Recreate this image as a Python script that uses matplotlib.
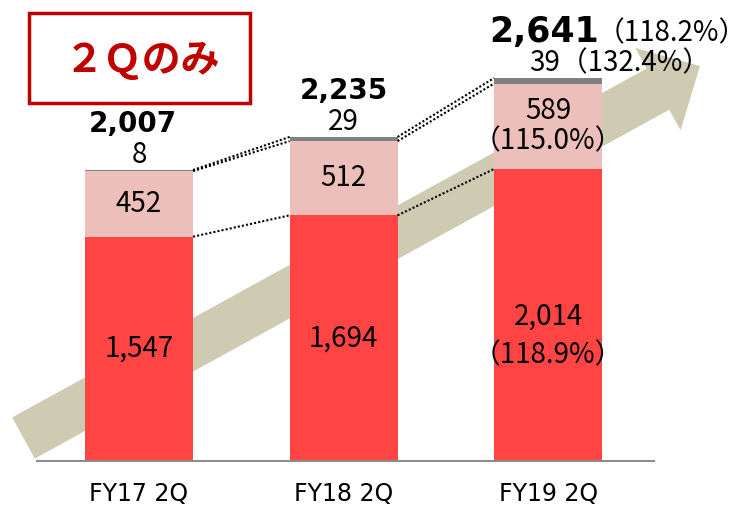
import numpy as np
import matplotlib
matplotlib.use("Agg")
import matplotlib.pyplot as plt
from matplotlib.patches import Polygon, Rectangle

categories = ["FY17 2Q", "FY18 2Q", "FY19 2Q"]
base_vals = [1547, 1694, 2014]
mid_vals = [452, 512, 589]
top_vals = [8, 29, 39]
totals = [2007, 2235, 2641]
base_labels = ["1,547", "1,694", "2,014\n（118.9%）"]
mid_labels = ["452", "512", "589\n（115.0%）"]
top_labels = ["8", "29", "39（132.4%）"]
total_labels = ["2,007", "2,235", "2,641"]
total_ratio = "（118.2%）"

RED = "#FF4444"
PINK = "#EDBFBA"
GRAY = "#808080"
BEIGE = "#CFCBB3"
DARKRED = "#C00000"
JP = ["Noto Sans CJK JP", "DejaVu Sans"]

W, H = 746, 513
PX = 0.145  # pixels per unit
fig = plt.figure(figsize=(W / 100, H / 100), dpi=100)

# background layer in pixel coords (arrow + title box)
bg = fig.add_axes([0, 0, 1, 1], zorder=0)
bg.set_xlim(0, W)
bg.set_ylim(H, 0)
bg.axis("off")

tail = np.array([23.5, 438.0])
tip = np.array([700.0, 66.0])
u = (tip - tail) / np.linalg.norm(tip - tail)
n = np.array([-u[1], u[0]])
hw, HW, hl = 23.5, 47.0, 48.0
b = tip - u * hl
pts = [tail + n * hw, b + n * hw, b + n * HW, tip, b - n * HW, b - n * hw, tail - n * hw]
bg.add_patch(Polygon(pts, closed=True, facecolor=BEIGE, edgecolor="none"))

bg.add_patch(Rectangle((29, 13), 221, 90, facecolor="white", edgecolor=DARKRED, linewidth=2.5))
bg.text(142, 60, "２Ｑのみ", ha="center", va="center", fontsize=28, fontweight="bold",
        color=DARKRED, family=JP)

# main chart
ax = fig.add_axes([37 / W, 52 / H, 617 / W, 461 / H], zorder=1)
ax.patch.set_alpha(0)
x = np.arange(len(categories))
bw = 0.528
ax.bar(x, base_vals, bw, color=RED, edgecolor="none")
ax.bar(x, mid_vals, bw, bottom=base_vals, color=PINK, edgecolor="none")
b2 = np.array(base_vals) + np.array(mid_vals)
ax.bar(x, top_vals, bw, bottom=b2, color=GRAY, edgecolor="none")

ax.set_xlim(-0.499, 2.518)
ax.set_ylim(0, 461 / PX)
for s in ["top", "right", "left"]:
    ax.spines[s].set_visible(False)
ax.spines["bottom"].set_color("#8C8C8C")
ax.spines["bottom"].set_linewidth(1.5)
ax.set_yticks([])
ax.set_xticks(x)
ax.set_xticklabels(categories, fontsize=17, family=["Liberation Sans Narrow", "DejaVu Sans"])
ax.tick_params(axis="x", length=0, pad=15)

# dotted connectors
levels = [np.array(base_vals), b2, np.array(totals)]
for i in range(len(categories) - 1):
    for lv in levels:
        ax.plot([x[i] + bw / 2, x[i + 1] - bw / 2], [lv[i], lv[i + 1]],
                color="black", linestyle=(0, (1, 1)), linewidth=1.5)

base_shift = [0, 0, -21 / PX]
for i in range(len(categories)):
    ax.text(x[i], base_vals[i] / 2 + base_shift[i], base_labels[i], ha="center", va="center",
            fontsize=20, family=JP, linespacing=1.35)
    ax.text(x[i], base_vals[i] + mid_vals[i] / 2, mid_labels[i], ha="center", va="center",
            fontsize=20, family=JP, linespacing=1.0)

# top labels
top_x = [x[0], x[1], x[2] + 0.35]
tot_x = [x[0] - 0.03, x[1], x[2] - 0.02]
tot_size = [20, 20, 25]
for i in range(len(categories)):
    ax.text(top_x[i], totals[i] + 15 / PX, top_labels[i], ha="center", va="center",
            fontsize=20, family=JP)
    ax.text(tot_x[i], totals[i] + 46 / PX, total_labels[i], ha="center", va="center",
            fontsize=tot_size[i], fontweight="bold", family="DejaVu Sans")
ax.text(x[2] + 0.24, totals[2] + 45 / PX, total_ratio, ha="left", va="center",
        fontsize=20, family=JP)

fig.savefig("out.png", dpi=100)
